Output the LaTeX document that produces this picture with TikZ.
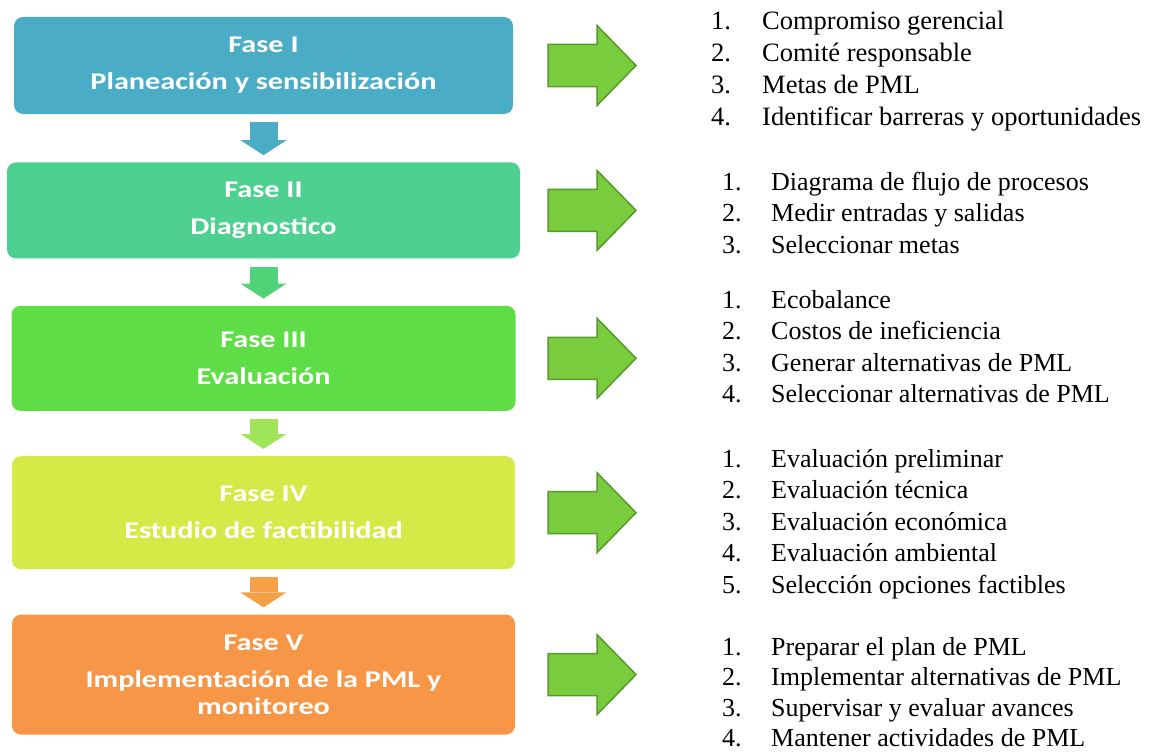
\documentclass[tikz,border=0pt]{standalone}
\usepackage{fontspec}
\usetikzlibrary{positioning,arrows.meta,calc}
\setmainfont{Liberation Serif}
\newfontfamily\fasefont{Carlito}[FakeStretch=1.26]

\definecolor{fase1}{RGB}{75,172,198}
\definecolor{fase2}{RGB}{77,208,144}
\definecolor{fase3}{RGB}{95,221,70}
\definecolor{fase4}{RGB}{212,234,70}
\definecolor{fase5}{RGB}{247,150,70}
\definecolor{flecha1}{RGB}{75,172,198}
\definecolor{flecha2}{RGB}{80,210,120}
\definecolor{flecha3}{RGB}{160,228,90}
\definecolor{flecha4}{RGB}{245,160,70}
\definecolor{salefill}{RGB}{120,204,62}
\definecolor{saleline}{RGB}{88,154,40}

\begin{document}
\begin{tikzpicture}[x=1pt, y=-1pt,
  fase/.style={fill=#1, rounded corners=9pt, text=white, align=center,
    font=\fasefont\bfseries\fontsize{24}{27}\selectfont},
  baja/.style={draw=#1, line width=28pt, shorten <=8pt, shorten >=7pt,
    -{Triangle[length=15pt, width=46pt, line width=0pt]}},
  sale/.style={draw=saleline, fill=salefill, line width=1.5pt,
    to path={let \p1=(\tikztostart), \p2=(\tikztotarget) in
      (\x1,\y1+21pt) -- (\x2-39pt,\y1+21pt) -- (\x2-39pt,\y1+40pt) -- (\x2,\y1)
      -- (\x2-39pt,\y1-40pt) -- (\x2-39pt,\y1-21pt) -- (\x1,\y1-21pt) -- cycle}},
  lista/.style={anchor=base west, inner sep=0pt,
    font=\fontsize{26}{31.5}\selectfont}]
\useasboundingbox (0,0) rectangle (1151,752);

% fases
\node[fase=fase1, minimum width=499pt, minimum height=97pt] (f1) at (263.5,65.5)
  {Fase I\\[10pt]Planeación y sensibilización};
\node[fase=fase2, minimum width=513pt, minimum height=96pt, below=48pt of f1] (f2)
  {Fase II\\[10pt]Diagnostico};
\node[fase=fase3, minimum width=504pt, minimum height=105pt, below=47pt of f2] (f3)
  {Fase III\\[10pt]Evaluación};
\node[fase=fase4, minimum width=503pt, minimum height=113pt, below=45pt of f3] (f4)
  {Fase IV\\[10pt]Estudio de factibilidad};
\node[fase=fase5, minimum width=503pt, minimum height=120pt, below=45pt of f4] (f5)
  {Fase V\\[10pt]Implementación de la PML y\\monitoreo};

\draw[baja=flecha1] (f1) -- (f2);
\draw[baja=flecha2] (f2) -- (f3);
\draw[baja=flecha3] (f3) -- (f4);
\draw[baja=flecha4] (f4) -- (f5);

% actividades
\node[lista, font=\fontsize{26.5}{32}\selectfont] (l1) at (711,30) {\begin{tabular}[t]{@{}p{51pt}@{}l@{}}
  1. & Compromiso gerencial\\
  2. & Comité responsable\\
  3. & Metas de PML\\
  4. & Identificar barreras y oportunidades
\end{tabular}};
\node[lista] (l2) at (722,190) {\begin{tabular}[t]{@{}p{49pt}@{}l@{}}
  1. & Diagrama de flujo de procesos\\
  2. & Medir entradas y salidas\\
  3. & Seleccionar metas
\end{tabular}};
\node[lista] (l3) at (722,308) {\begin{tabular}[t]{@{}p{49pt}@{}l@{}}
  1. & Ecobalance\\
  2. & Costos de ineficiencia\\
  3. & Generar alternativas de PML\\
  4. & Seleccionar alternativas de PML
\end{tabular}};
\node[lista] (l4) at (722,467) {\begin{tabular}[t]{@{}p{49pt}@{}l@{}}
  1. & Evaluación preliminar\\
  2. & Evaluación técnica\\
  3. & Evaluación económica\\
  4. & Evaluación ambiental\\
  5. & Selección opciones factibles
\end{tabular}};
\node[lista, font=\fontsize{26}{30.5}\selectfont] (l5) at (722,655) {\begin{tabular}[t]{@{}p{49pt}@{}l@{}}
  1. & Preparar el plan de PML\\
  2. & Implementar alternativas de PML\\
  3. & Supervisar y evaluar avances\\
  4. & Mantener actividades de PML
\end{tabular}};

\coordinate (ini) at (548,0);
\coordinate (fin) at (636,0);
\foreach \i in {1,...,5}
  \draw[sale] (f\i.east -| ini) to (f\i.east -| fin);
\end{tikzpicture}
\end{document}
